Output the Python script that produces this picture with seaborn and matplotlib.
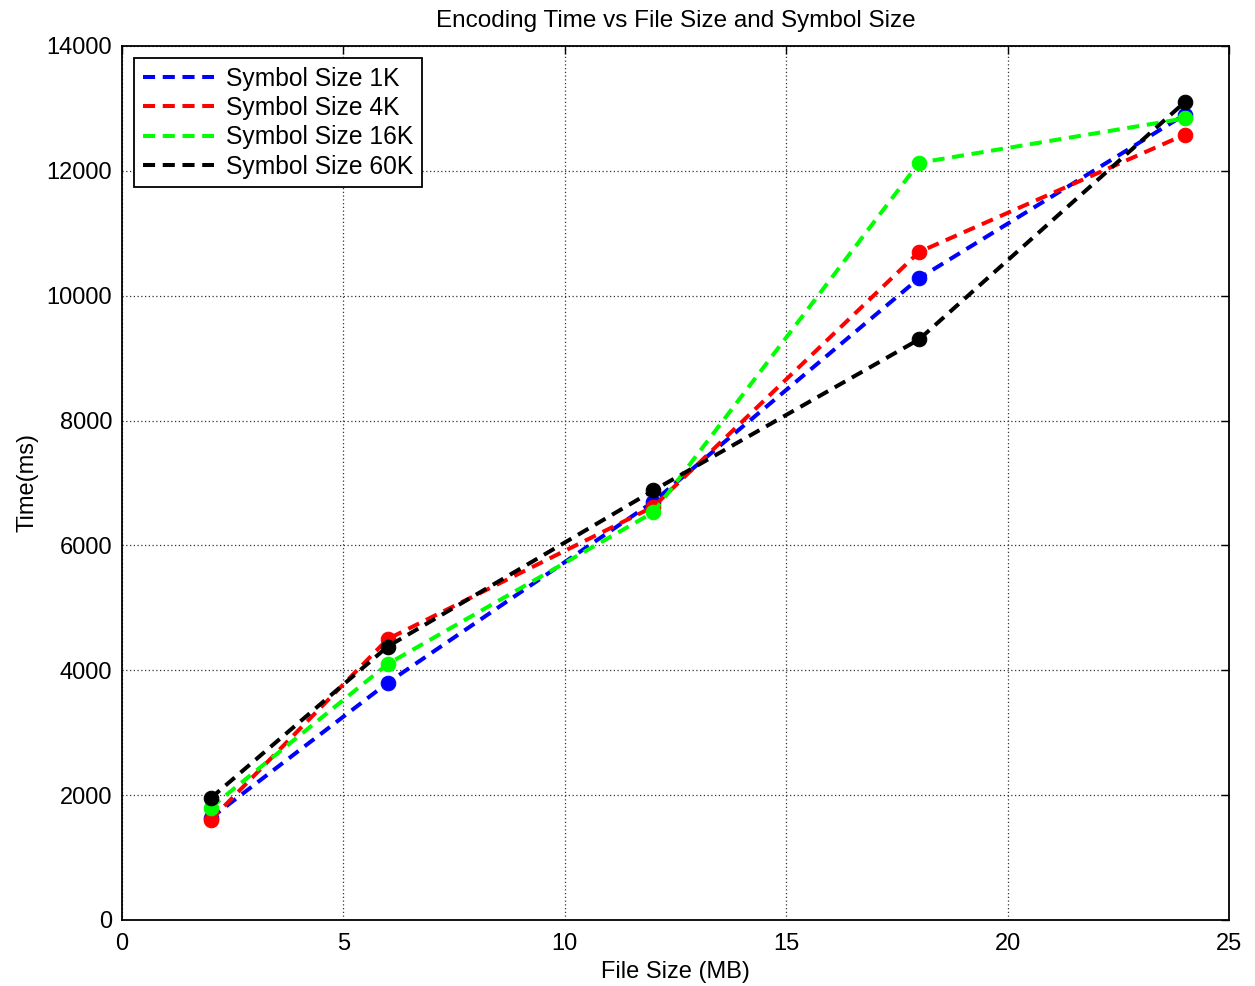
import matplotlib
matplotlib.use("Agg")
import matplotlib.pyplot as plt
from matplotlib.lines import Line2D
import seaborn as sns
import pandas as pd

# Encoding times (ms) per file size for each symbol size
file_sizes = [2, 6, 12, 18, 24]
time_1k = [1630, 3800, 6700, 10280, 12900]
time_4k = [1600, 4500, 6620, 10700, 12580]
time_16k = [1800, 4100, 6530, 12130, 12840]
time_60k = [1950, 4380, 6880, 9300, 13100]
series_names = ["Symbol Size 1K", "Symbol Size 4K", "Symbol Size 16K", "Symbol Size 60K"]
series_colors = ["#0000ff", "#ff0000", "#00ff00", "#000000"]

sns.set_theme(style="white")
plt.rcParams["font.family"] = ["Liberation Sans", "DejaVu Sans"]
plt.rcParams["text.color"] = "black"

LW = 2.9
DASH = [3.0, 1.9]

fig = plt.figure(figsize=(12.55, 9.86), dpi=100)
ax = fig.add_axes([122 / 1255, 66 / 986, (1229 - 122) / 1255, (920 - 46) / 986])

for name, vals, col in zip(series_names, [time_1k, time_4k, time_16k, time_60k], series_colors):
    df = pd.DataFrame({"size": file_sizes, "time": vals})
    sns.lineplot(data=df, x="size", y="time", ax=ax, color=col, linestyle="--",
                 linewidth=LW, marker="o", markersize=10.5,
                 markeredgecolor=col, markerfacecolor=col, legend=False)
    ax.lines[-1].set_dashes(DASH)

ax.set_xlim(0, 25)
ax.set_ylim(0, 14000)
ax.set_xticks([0, 5, 10, 15, 20, 25])
ax.set_yticks(range(0, 14001, 2000))
ax.grid(True, color="#333333", linestyle=(0, (1, 2)), linewidth=0.9)
ax.tick_params(axis="both", which="both", direction="in", top=True, right=True,
               length=6, width=1, labelsize=17, color="black", labelcolor="black")
ax.tick_params(axis="x", pad=9)
ax.tick_params(axis="y", pad=7)
for sp in ax.spines.values():
    sp.set_visible(True)
    sp.set_color("black")
    sp.set_linewidth(1.3)

ax.set_xlabel("File Size (MB)", fontsize=17, color="black", labelpad=5)
ax.set_ylabel("Time(ms)", fontsize=17, color="black", labelpad=6)
ax.set_title("Encoding Time vs File Size and Symbol Size", fontsize=17.5, color="black", pad=14)

handles = [Line2D([0], [0], color=c, linestyle="--", linewidth=LW, dashes=DASH) for c in series_colors]
leg = ax.legend(handles, series_names, loc="upper left", fontsize=17.7, frameon=True,
                fancybox=False, framealpha=1, edgecolor="black", borderpad=0.35,
                labelspacing=0.22, handlelength=2.9, handletextpad=0.5,
                borderaxespad=0, bbox_to_anchor=(12 / 1107, 1 - 12 / 874))
for t in leg.get_texts():
    t.set_color("black")
leg.get_frame().set_linewidth(1.3)

fig.savefig("out.png", dpi=100, facecolor="white")
